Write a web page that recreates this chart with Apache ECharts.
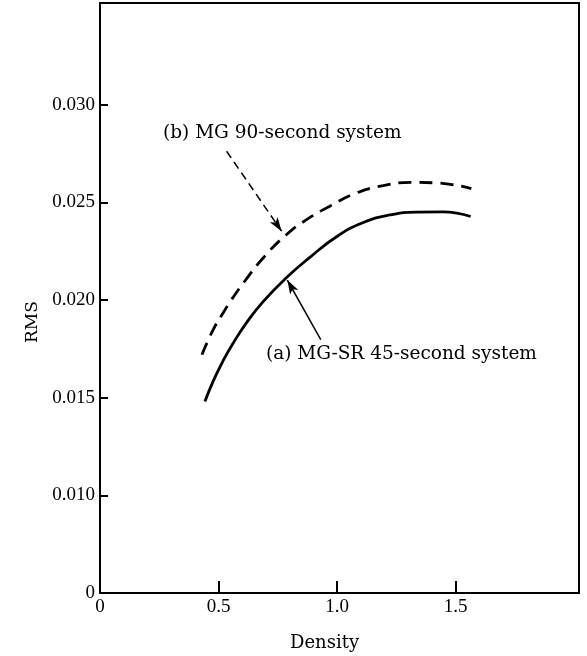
<!DOCTYPE html>
<html>
<head>
<meta charset="utf-8">
<script src="https://cdn.jsdelivr.net/npm/echarts@6/dist/echarts.min.js"></script>
<style>html,body{margin:0;padding:0;background:#fff}#c{width:587px;height:656px}</style>
</head>
<body>
<div id="c"></div>
<script>
// Data
var solidX = [0.4425, 0.476, 0.518, 0.560, 0.619, 0.687, 0.788, 0.885, 0.999, 1.108, 1.222, 1.336, 1.445, 1.563];
var solidY = [0.01480, 0.01581, 0.01686, 0.01776, 0.01885, 0.01990, 0.02116, 0.02218, 0.02325, 0.02395, 0.02435, 0.02450, 0.02451, 0.02427];
var dashX = [0.430, 0.4775, 0.5196, 0.555, 0.611, 0.688, 0.787, 0.871, 0.969, 1.082, 1.194, 1.3135, 1.419, 1.566];
var dashY = [0.01720, 0.01848, 0.01934, 0.02002, 0.02097, 0.02215, 0.02335, 0.02411, 0.02480, 0.02548, 0.02585, 0.02602, 0.02599, 0.02570];
var xTicks = [0, 0.5, 1.0, 1.5];
var yTicks = [0.005, 0.010, 0.015, 0.020, 0.025, 0.030];
var labelA = '(a) MG-SR 45-second system';
var labelB = '(b) MG 90-second system';
var arrowA = [[0.931, 0.01797], [0.790, 0.02102]];
var arrowB = [[0.534, 0.02761], [0.766, 0.02352]];
var xName = 'Density';
var yName = 'RMS';

function pairs(xs, ys) { return xs.map(function (x, i) { return [x, ys[i]]; }); }

var FONT = 'DejaVu Serif';
var TICKFONT = 'Liberation Serif';
var chart = echarts.init(document.getElementById('c'), null, { renderer: 'canvas' });
var axisLine = { show: true, onZero: false, lineStyle: { color: '#000', width: 2 } };
chart.setOption({
  animation: false,
  backgroundColor: '#fff',
  grid: { left: 100, right: 8, top: 3, bottom: 63 },
  xAxis: [{
    type: 'value', min: 0, max: 2.02, interval: 0.5,
    axisLine: axisLine,
    splitLine: { show: false },
    axisTick: { show: true, inside: true, length: 12, customValues: xTicks, lineStyle: { color: '#000', width: 2 } },
    axisLabel: { customValues: xTicks, margin: 5, color: '#000', fontFamily: TICKFONT, fontSize: 19,
      formatter: function (v) { return v === 0 ? '0' : v.toFixed(1); } }
  }, {
    type: 'value', position: 'top', min: 0, max: 2.02,
    axisLine: axisLine, splitLine: { show: false }, axisTick: { show: false }, axisLabel: { show: false }
  }],
  yAxis: [{
    type: 'value', min: 0.005, max: 0.0352, interval: 0.005,
    axisLine: axisLine,
    splitLine: { show: false },
    axisTick: { show: true, inside: true, length: 8, customValues: yTicks, lineStyle: { color: '#000', width: 2 } },
    axisLabel: { customValues: yTicks, margin: 5, color: '#000', fontFamily: TICKFONT, fontSize: 19,
      formatter: function (v) { return v < 0.0075 ? '0' : v.toFixed(3); } }
  }, {
    type: 'value', position: 'right', min: 0.005, max: 0.0352,
    axisLine: axisLine, splitLine: { show: false }, axisTick: { show: false }, axisLabel: { show: false }
  }],
  series: [{
    name: labelA, type: 'line', smooth: true, showSymbol: false, symbol: 'none',
    data: pairs(solidX, solidY),
    lineStyle: { color: '#000', width: 2.8 },
    markLine: {
      silent: true, symbol: ['none', 'arrow'], symbolSize: [7, 14], label: { show: false },
      lineStyle: { color: '#000', width: 1.5, type: 'solid' },
      data: [[{ coord: arrowA[0] }, { coord: arrowA[1] }]]
    }
  }, {
    name: labelB, type: 'line', smooth: true, showSymbol: false, symbol: 'none',
    data: pairs(dashX, dashY),
    lineStyle: { color: '#000', width: 2.8, type: [13, 8] },
    markLine: {
      silent: true, symbol: ['none', 'arrow'], symbolSize: [7, 14], label: { show: false },
      lineStyle: { color: '#000', width: 1.5, type: [8, 5] },
      data: [[{ coord: arrowB[0] }, { coord: arrowB[1] }]]
    }
  }],
  graphic: [
    { type: 'text', left: 163, top: 124, style: { text: labelB, fill: '#000', font: '18.5px "DejaVu Serif"' } },
    { type: 'text', left: 266, top: 345, style: { text: labelA, fill: '#000', font: '18.5px "DejaVu Serif"' } },
    { type: 'text', left: 290, top: 634, style: { text: xName, fill: '#000', font: '18px "DejaVu Serif"' } },
    { type: 'text', x: 33, y: 322, rotation: Math.PI / 2,
      style: { text: yName, fill: '#000', font: '17px "DejaVu Serif"', align: 'center', verticalAlign: 'middle' } }
  ]
});
</script>
</body>
</html>
